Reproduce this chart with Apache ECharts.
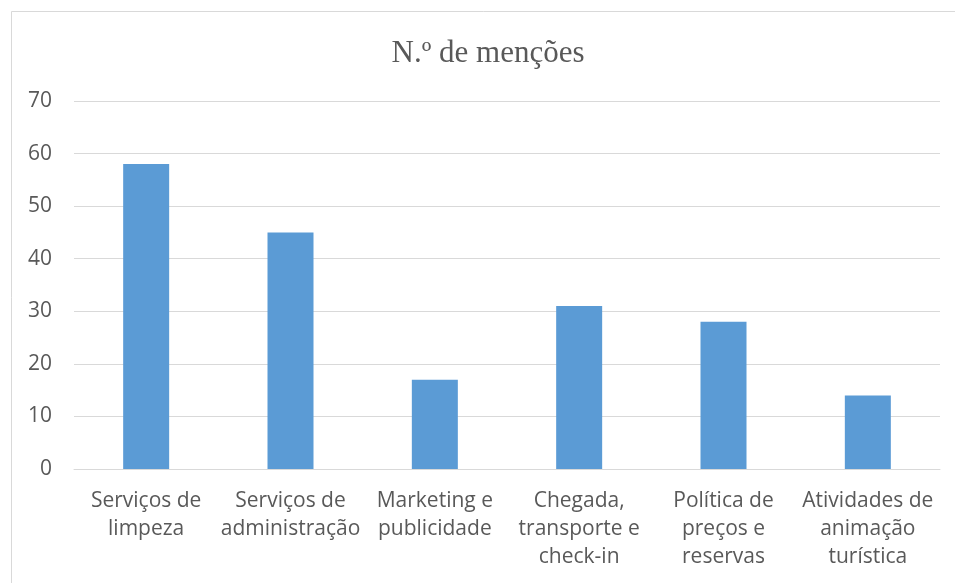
<!DOCTYPE html>
<html>
<head>
<meta charset="utf-8">
<script src="https://cdn.jsdelivr.net/npm/echarts@6/dist/echarts.min.js"></script>
<style>
html,body{margin:0;padding:0;background:#fff;}
#chart{width:955px;height:583px;}
</style>
</head>
<body>
<div id="chart"></div>
<script>
const titleText = 'N.º de menções';
const categories = [
  'Serviços de\nlimpeza',
  'Serviços de\nadministração',
  'Marketing e\npublicidade',
  'Chegada,\ntransporte e\ncheck-in',
  'Política de\npreços e\nreservas',
  'Atividades de\nanimação\nturística'
];
const values = [58, 45, 17, 31, 28, 14];
const yMin = 0, yMax = 70, yInterval = 10;

const chart = echarts.init(document.getElementById('chart'));
chart.setOption({
  animation: false,
  backgroundColor: '#ffffff',
  graphic: [{
    type: 'rect',
    shape: {x: 11.5, y: 11.5, width: 1000, height: 700},
    style: {fill: 'none', stroke: '#D9D9D9', lineWidth: 1},
    silent: true
  }],
  title: {
    text: titleText,
    left: 483,
    textAlign: 'center',
    top: 33,
    textStyle: {fontFamily: 'Liberation Serif', fontSize: 31, fontWeight: 'normal', color: '#595959'}
  },
  grid: {left: 74, right: 15, top: 101, bottom: 114},
  xAxis: {
    type: 'category',
    data: categories,
    axisLine: {show: true, lineStyle: {color: '#D9D9D9', width: 1}},
    axisTick: {show: false},
    axisLabel: {
      interval: 0,
      margin: 18,
      fontFamily: 'Open Sans',
      fontSize: 21,
      lineHeight: 28,
      color: '#595959'
    }
  },
  yAxis: {
    type: 'value',
    min: yMin, max: yMax, interval: yInterval,
    axisLine: {show: false},
    axisTick: {show: false},
    splitLine: {lineStyle: {color: '#D9D9D9', width: 1}},
    axisLabel: {margin: 22, fontFamily: 'Open Sans', fontSize: 21, color: '#595959'}
  },
  series: [{
    type: 'bar',
    data: values,
    barWidth: 46,
    itemStyle: {color: '#5B9BD5'}
  }]
});
</script>
</body>
</html>
